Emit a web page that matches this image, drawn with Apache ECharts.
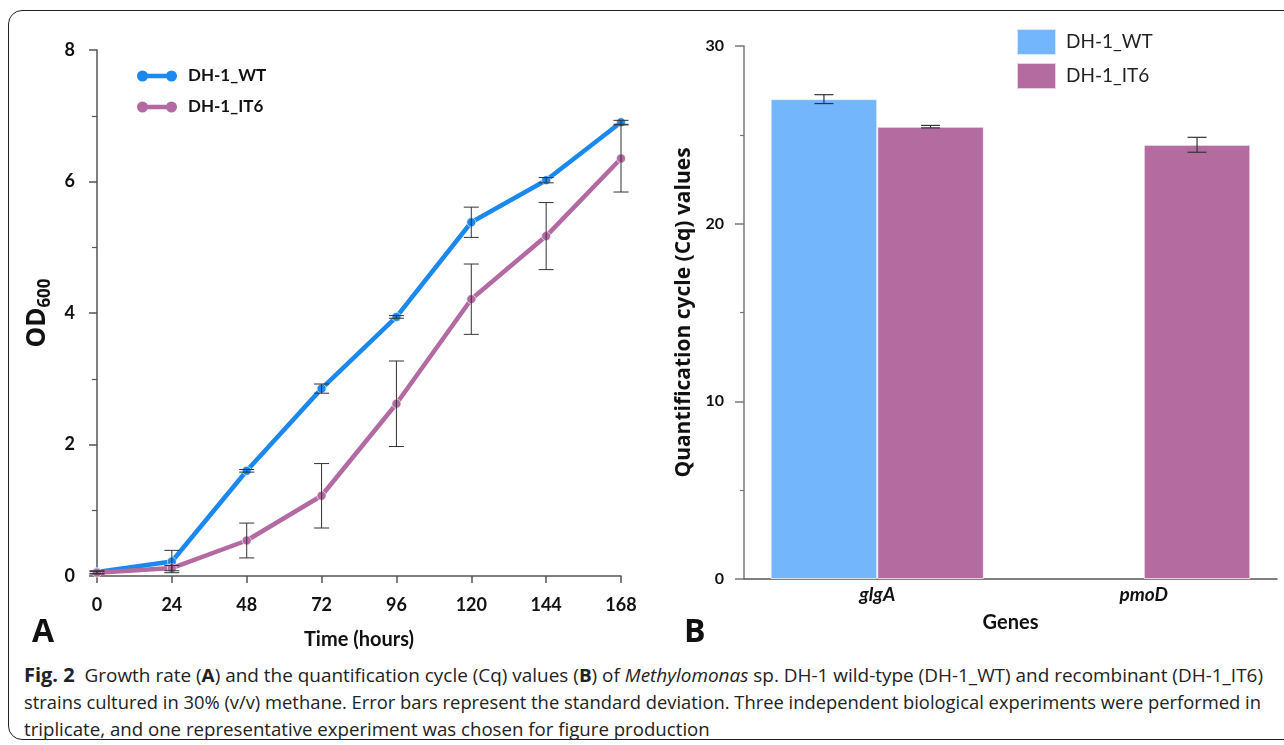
<!DOCTYPE html>
<html>
<head>
<meta charset="utf-8">
<script src="https://cdn.jsdelivr.net/npm/echarts@6/dist/echarts.min.js"></script>
<style>
  html, body { margin:0; padding:0; background:#fff; width:1284px; height:745px; overflow:hidden; }
  #frame { position:absolute; left:8px; top:10px; width:1330px; height:730px; border:1.3px solid #222; border-radius:14px; box-sizing:border-box; }
  #chartA { position:absolute; left:0; top:0; width:660px; height:660px; }
  #chartB { position:absolute; left:660px; top:0; width:624px; height:660px; }
  #caption { position:absolute; left:24px; top:662px; color:#222; font-family:'Open Sans','Lato',sans-serif; font-size:18px; line-height:27px; }
  #caption .ln { white-space:nowrap; width:max-content; transform-origin:0 50%; }
  #caption .fig { font-size:19px; }
</style>
</head>
<body>
<div id="frame"></div>
<div id="chartA"></div>
<div id="chartB"></div>
<div id="caption">
  <div class="ln"><b class="fig">Fig. 2</b>&nbsp; Growth rate (<b>A</b>) and the quantification cycle (Cq) values (<b>B</b>) of <i>Methylomonas</i> sp. DH-1 wild-type (DH-1_WT) and recombinant (DH-1_IT6)</div>
  <div class="ln">strains cultured in 30% (v/v) methane. Error bars represent the standard deviation. Three independent biological experiments were performed in</div>
  <div class="ln">triplicate, and one representative experiment was chosen for figure production</div>
</div>
<script>
// ---- Panel A data: growth (OD600) ----
const timeHours = [0, 24, 48, 72, 96, 120, 144, 168];
const wtOD   = [0.06, 0.22, 1.60, 2.85, 3.94, 5.38, 6.02, 6.90];
const wtSD   = [0.02, 0.17, 0.02, 0.07, 0.02, 0.23, 0.04, 0.03];
const it6OD  = [0.05, 0.12, 0.54, 1.22, 2.62, 4.21, 5.17, 6.35];
const it6SD  = [0.02, 0.04, 0.265, 0.49, 0.65, 0.535, 0.51, 0.51];
const seriesNames = ['DH-1_WT', 'DH-1_IT6'];

// ---- Panel B data: Cq values ----
const genes    = ['glgA', 'pmoD'];
const wtCq     = [27.01, null];
const wtCqSD   = [0.25, null];
const it6Cq    = [25.46, 24.44];
const it6CqSD  = [0.07, 0.42];

const WT_LINE = '#1b88f0', IT6_LINE = '#b36aa2';
const WT_BAR = '#73b6fc', IT6_BAR = '#b46ca0';
const AXIS = '#555';

function errA(half) {
  return function (params, api) {
    const x = api.value(0), y = api.value(1), e = api.value(2);
    const p1 = api.coord([x, y + e]), p2 = api.coord([x, y - e]);
    const st = { stroke: '#333', lineWidth: 1 };
    return { type: 'group', children: [
      { type: 'line', shape: { x1: p1[0], y1: p1[1], x2: p2[0], y2: p2[1] }, style: st },
      { type: 'line', shape: { x1: p1[0] - half, y1: p1[1], x2: p1[0] + half, y2: p1[1] }, style: st },
      { type: 'line', shape: { x1: p2[0] - half, y1: p2[1], x2: p2[0] + half, y2: p2[1] }, style: st }
    ]};
  };
}
function errB(off, half) {
  return function (params, api) {
    const i = api.value(0), v = api.value(1), e = api.value(2);
    const band = api.size([1, 0])[0];
    const p1 = api.coord([i, v + e]), p2 = api.coord([i, v - e]);
    const cx = p1[0] + off * band;
    const st = { stroke: '#333', lineWidth: 1.2 };
    return { type: 'group', children: [
      { type: 'line', shape: { x1: cx, y1: p1[1], x2: cx, y2: p2[1] }, style: st },
      { type: 'line', shape: { x1: cx - half, y1: p1[1], x2: cx + half, y2: p1[1] }, style: st },
      { type: 'line', shape: { x1: cx - half, y1: p2[1], x2: cx + half, y2: p2[1] }, style: st }
    ]};
  };
}

const boldNum = { fontFamily: 'Lato', fontWeight: 'bold', color: '#111' };
const legendIcon = 'path://M0,5.5A5.5,5.5,0,1,1,11,5.5A5.5,5.5,0,1,1,0,5.5ZM29,5.5A5.5,5.5,0,1,1,40,5.5A5.5,5.5,0,1,1,29,5.5ZM5,3.3H35V7.7H5Z';

const chartA = echarts.init(document.getElementById('chartA'), null, { renderer: 'canvas' });
chartA.setOption({
  animation: false,
  grid: { left: 97, top: 50, width: 524, height: 526 },
  legend: {
    left: 137, top: 66, padding: 0, orient: 'vertical', itemWidth: 40, itemHeight: 11, itemGap: 11,
    selectedMode: false,
    data: [
      { name: seriesNames[0], icon: legendIcon, itemStyle: { color: WT_LINE, borderWidth: 0 } },
      { name: seriesNames[1], icon: legendIcon, itemStyle: { color: IT6_LINE, borderWidth: 0 } }
    ],
    textStyle: { fontFamily: 'Lato', fontWeight: 'bold', fontSize: 17, color: '#111', lineHeight: 20, padding: [0, 0, 0, 6] }
  },
  xAxis: {
    type: 'value', min: 0, max: 168, interval: 24,
    name: 'Time (hours)', nameLocation: 'middle', nameGap: 54,
    nameTextStyle: Object.assign({ fontSize: 20 }, boldNum),
    axisLine: { show: true, lineStyle: { color: AXIS, width: 1.5 } },
    axisTick: { show: true, length: 7, lineStyle: { color: AXIS, width: 1.5 } },
    axisLabel: Object.assign({ margin: 20, fontSize: 18 }, boldNum),
    splitLine: { show: false }
  },
  yAxis: {
    type: 'value', min: 0, max: 8, interval: 2,
    name: '{b|OD}{s|600}', nameLocation: 'middle', nameGap: 36,
    nameTextStyle: { rich: {
      b: { fontFamily: 'Open Sans', fontWeight: 'bold', fontSize: 26, lineHeight: 32, color: '#111' },
      s: { fontFamily: 'Open Sans', fontWeight: 'bold', fontSize: 17, lineHeight: 17, verticalAlign: 'bottom', color: '#111' }
    }},
    axisLine: { show: true, lineStyle: { color: AXIS, width: 1.5 } },
    axisTick: { show: true, length: 8, lineStyle: { color: AXIS, width: 1.5 } },
    minorTick: { show: true, splitNumber: 2, length: 5, lineStyle: { color: AXIS, width: 1.2 } },
    axisLabel: Object.assign({ margin: 22, fontSize: 18 }, boldNum),
    splitLine: { show: false }
  },
  graphic: [{ type: 'text', left: 32, top: 617, style: { text: 'A', font: 'bold 32px "Open Sans"', fill: '#111' } }],
  series: [
    { type: 'line', name: seriesNames[0], data: timeHours.map((t, i) => [t, wtOD[i]]), symbol: 'circle', symbolSize: 9,
      lineStyle: { width: 4.5, color: WT_LINE }, itemStyle: { color: WT_LINE, borderColor: 'rgba(255,255,255,0.6)', borderWidth: 1 }, z: 2 },
    { type: 'line', name: seriesNames[1], data: timeHours.map((t, i) => [t, it6OD[i]]), symbol: 'circle', symbolSize: 9,
      lineStyle: { width: 4.5, color: IT6_LINE }, itemStyle: { color: IT6_LINE, borderColor: 'rgba(255,255,255,0.6)', borderWidth: 1 }, z: 3 },
    { type: 'custom', name: 'errWT', data: timeHours.map((t, i) => [t, wtOD[i], wtSD[i]]), encode: { x: 0, y: 1 }, renderItem: errA(7.5), z: 5, silent: true },
    { type: 'custom', name: 'errIT6', data: timeHours.map((t, i) => [t, it6OD[i], it6SD[i]]), encode: { x: 0, y: 1 }, renderItem: errA(7.5), z: 5, silent: true }
  ]
});

const chartB = echarts.init(document.getElementById('chartB'), null, { renderer: 'canvas' });
const idxWT = genes.map((g, i) => i).filter(i => wtCq[i] != null);
const idxIT = genes.map((g, i) => i).filter(i => it6Cq[i] != null);
chartB.setOption({
  animation: false,
  grid: { left: 84, top: 46, width: 533, height: 533 },
  legend: {
    left: 356, top: 28, padding: 0, orient: 'vertical', itemWidth: 39, itemHeight: 26, itemGap: 6, icon: 'rect',
    selectedMode: false, data: seriesNames,
    textStyle: { fontFamily: 'Lato', fontSize: 19, color: '#222', lineHeight: 26, padding: [0, 0, 0, 5] }
  },
  xAxis: {
    type: 'category', data: genes,
    name: 'Genes', nameLocation: 'middle', nameGap: 34,
    nameTextStyle: Object.assign({ fontSize: 20 }, boldNum),
    axisLine: { show: true, lineStyle: { color: AXIS, width: 1.5 } },
    axisTick: { show: false },
    axisLabel: Object.assign({ margin: 6, fontSize: 19, fontStyle: 'italic' }, boldNum)
  },
  yAxis: {
    type: 'value', min: 0, max: 30, interval: 10,
    name: 'Quantification cycle (Cq) values', nameLocation: 'middle', nameGap: 48,
    nameTextStyle: { fontFamily: 'Open Sans', fontWeight: 'bold', fontSize: 21, color: '#111' },
    axisLine: { show: true, lineStyle: { color: '#777', width: 1.5 } },
    axisTick: { show: true, length: 9, lineStyle: { color: '#777', width: 1.5 } },
    minorTick: { show: true, splitNumber: 2, length: 4, lineStyle: { color: '#777', width: 1.2 } },
    axisLabel: Object.assign({ margin: 20, fontSize: 16 }, boldNum),
    splitLine: { show: false }
  },
  graphic: [{ type: 'text', left: 24, top: 617, style: { text: 'B', font: 'bold 32px "Open Sans"', fill: '#111' } }],
  series: [
    { type: 'bar', name: seriesNames[0], data: wtCq, barGap: '0%', barCategoryGap: '20%',
      itemStyle: { color: WT_BAR, borderColor: 'rgba(255,255,255,0.7)', borderWidth: 1 } },
    { type: 'bar', name: seriesNames[1], data: it6Cq,
      itemStyle: { color: IT6_BAR, borderColor: 'rgba(255,255,255,0.7)', borderWidth: 1 } },
    { type: 'custom', name: 'errWT', data: idxWT.map(i => [i, wtCq[i], wtCqSD[i]]), encode: { x: 0, y: 1 }, renderItem: errB(-0.2, 9.5), z: 5, silent: true },
    { type: 'custom', name: 'errIT6', data: idxIT.map(i => [i, it6Cq[i], it6CqSD[i]]), encode: { x: 0, y: 1 }, renderItem: errB(0.2, 9.5), z: 5, silent: true }
  ]
});

// fit caption lines to the reference line widths
(function () {
  const lines = document.querySelectorAll('#caption .ln');
  const targets = [1239, 1237];
  const scales = [];
  for (let k = 0; k < 2; k++) {
    const w = lines[k].getBoundingClientRect().width;
    scales.push(targets[k] / w);
    lines[k].style.transform = 'scaleX(' + scales[k] + ')';
  }
  lines[2].style.transform = 'scaleX(' + ((scales[0] + scales[1]) / 2) + ')';
})();
</script>
</body>
</html>
